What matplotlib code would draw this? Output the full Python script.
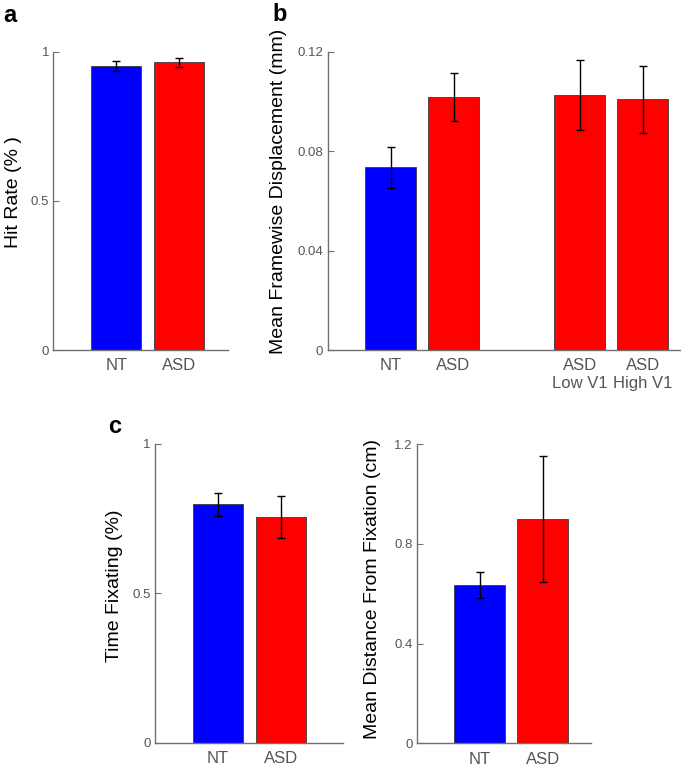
import matplotlib
matplotlib.use("Agg")
import matplotlib.pyplot as plt
import numpy as np

plt.rcParams['font.family'] = ['Liberation Sans', 'DejaVu Sans']

# ---- data ----
a_labels = ["NT", "ASD"]
a_pos = [1, 2]
a_vals = [0.952, 0.964]
a_err = [0.017, 0.015]
a_colors = ["#0000ff", "#ff0000"]

b_labels = ["NT", "ASD", "ASD\nLow V1", "ASD\nHigh V1"]
b_pos = [1, 2, 4, 5]
b_vals = [0.0735, 0.1017, 0.1026, 0.1008]
b_err = [0.0083, 0.0096, 0.0141, 0.0135]
b_colors = ["#0000ff", "#ff0000", "#ff0000", "#ff0000"]

c1_labels = ["NT", "ASD"]
c1_pos = [1, 2]
c1_vals = [0.798, 0.756]
c1_err = [0.039, 0.071]

c2_labels = ["NT", "ASD"]
c2_pos = [1, 2]
c2_vals = [0.637, 0.901]
c2_err = [0.052, 0.254]

W, H = 681, 768
fig = plt.figure(figsize=(W / 100, H / 100), dpi=100)

GRAY = "#707070"
TXT = "#555555"


def make_ax(left, right, top, bottom):
    return fig.add_axes([left / W, 1 - bottom / H, (right - left) / W, (bottom - top) / H])


def style(ax, pos, labels, vals, errs, colors, ylim, yticks, yticklabels, xlim,
          ylabel, lab_x, lab_y, ylab_size):
    ax.bar(pos, vals, width=0.8, color=colors, edgecolor="#3a3a3a", linewidth=0.6, zorder=2)
    ax.errorbar(pos, vals, yerr=errs, fmt="none", ecolor="black", elinewidth=1.0,
                capsize=2.8, capthick=1.0, zorder=3)
    ax.set_xlim(*xlim)
    ax.set_ylim(*ylim)
    ax.set_yticks(yticks)
    ax.set_yticklabels(yticklabels)
    ax.set_xticks(pos)
    ax.set_xticklabels(labels)
    for s in ["top", "right"]:
        ax.spines[s].set_visible(False)
    for s in ["left", "bottom"]:
        ax.spines[s].set_color(GRAY)
        ax.spines[s].set_linewidth(1.0)
    ax.tick_params(axis="y", direction="in", length=4, width=0.8, color=GRAY,
                   labelcolor=TXT, labelsize=9.5, pad=3)
    ax.tick_params(axis="x", length=0, labelcolor=TXT, labelsize=12, pad=6)
    ax.set_ylabel(ylabel, fontsize=ylab_size, color="black")
    ax.yaxis.set_label_coords(lab_x, lab_y)
    ax.patch.set_alpha(0)


ax_a = make_ax(53.3, 228.3, 51.7, 350)
style(ax_a, a_pos, a_labels, a_vals, a_err, a_colors, (0, 1), [0, 0.5, 1],
      ["0", "0.5", "1"], (0, 2.78), "Hit Rate (% )", -0.18, 0.53, 14)

ax_b = make_ax(327.5, 681, 51.7, 350)
style(ax_b, b_pos, b_labels, b_vals, b_err, b_colors, (0, 0.12),
      [0, 0.04, 0.08, 0.12], ["0", "0.04", "0.08", "0.12"], (0, 5.61),
      "Mean Framewise Displacement (mm)", -0.115, 0.533, 14)

ax_c1 = make_ax(155, 343.3, 444, 742.7)
style(ax_c1, c1_pos, c1_labels, c1_vals, c1_err, a_colors, (0, 1), [0, 0.5, 1],
      ["0", "0.5", "1"], (0, 2.99), "Time Fixating (%)", -0.168, 0.525, 14)

ax_c2 = make_ax(416.7, 591, 444.3, 743.3)
style(ax_c2, c2_pos, c2_labels, c2_vals, c2_err, a_colors, (0, 1.2),
      [0, 0.4, 0.8, 1.2], ["0", "0.4", "0.8", "1.2"], (0, 2.77),
      "Mean Distance From Fixation (cm)", -0.207, 0.515, 14)

fig.text(3 / W, 1 - 22 / H, "a", fontsize=17, fontweight="bold", ha="left", va="baseline")
fig.text(272 / W, 1 - 21 / H, "b", fontsize=17, fontweight="bold", ha="left", va="baseline")
fig.text(108 / W, 1 - 433 / H, "c", fontsize=17, fontweight="bold", ha="left", va="baseline")

fig.savefig("out.png", dpi=100, facecolor="white")
